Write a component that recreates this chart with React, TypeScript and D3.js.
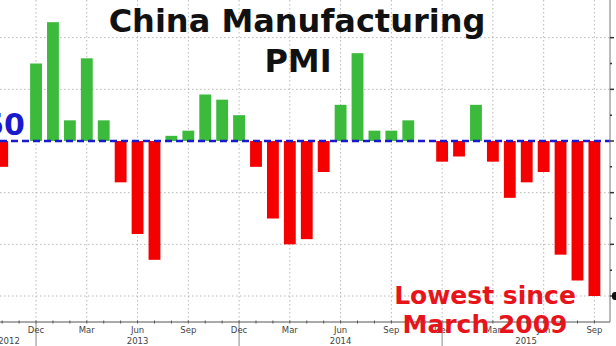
import React from "react";
import * as d3 from "d3";

const months = [
  "Oct 2012", "Nov 2012", "Dec 2012",
  "Jan 2013", "Feb 2013", "Mar 2013", "Apr 2013", "May 2013", "Jun 2013",
  "Jul 2013", "Aug 2013", "Sep 2013", "Oct 2013", "Nov 2013", "Dec 2013",
  "Jan 2014", "Feb 2014", "Mar 2014", "Apr 2014", "May 2014", "Jun 2014",
  "Jul 2014", "Aug 2014", "Sep 2014", "Oct 2014", "Nov 2014", "Dec 2014",
  "Jan 2015", "Feb 2015", "Mar 2015", "Apr 2015", "May 2015", "Jun 2015",
  "Jul 2015", "Aug 2015", "Sep 2015",
];

const pmi: (number | null)[] = [
  49.5, null, 51.5,
  52.3, 50.4, 51.6, 50.4, 49.2, 48.2,
  47.7, 50.1, 50.2, 50.9, 50.8, 50.5,
  49.5, 48.5, 48.0, 48.1, 49.4, 50.7,
  51.7, 50.2, 50.2, 50.4, 50.0, 49.6,
  49.7, 50.7, 49.6, 48.9, 49.2, 49.4,
  47.8, 47.3, 47.0,
];

const yTicks = [47, 48, 49, 50, 51, 52];
const quarterMonths = ["Dec", "Mar", "Jun", "Sep"];
const years = ["2012", "2013", "2014", "2015"];
const threshold = 50;

const W = 616;
const H = 346;
const axisY = 322;
const rightX = 610;

export default function App() {
  const x = d3
    .scaleBand<string>()
    .domain(months)
    .range([-8.8, 605.4])
    .padding(0.3);
  const y = d3.scaleLinear().domain([47, 50]).range([296, 141]);
  const bw = x.bandwidth();
  const cx = (m: string) => (x(m) as number) + bw / 2;

  const quarterTicks = months.filter((m) => quarterMonths.includes(m.slice(0, 3)));
  const decs = months.filter((m) => m.startsWith("Dec"));
  const boundaries = [-18, ...decs.map(cx), rightX];

  const minorY = d3.range(47, 52.01, 0.5);

  return (
    <svg
      width={W}
      height={H}
      style={{ position: "absolute", left: 0, top: 0, background: "#fff" }}
      fontFamily="DejaVu Sans, Verdana, sans-serif"
    >
      <rect width={W} height={H} fill="#fff" />
      {/* horizontal grid */}
      {yTicks
        .filter((t) => t !== threshold)
        .map((t) => (
          <line
            key={"hg" + t}
            x1={0}
            x2={rightX}
            y1={y(t)}
            y2={y(t)}
            stroke="#b8b8b8"
            strokeWidth={1}
            strokeDasharray="1.5,2.5"
          />
        ))}
      {/* vertical grid */}
      {quarterTicks.map((m) => (
        <line
          key={"vg" + m}
          x1={cx(m)}
          x2={cx(m)}
          y1={0}
          y2={axisY}
          stroke="#b8b8b8"
          strokeWidth={1}
          strokeDasharray="1.5,2.5"
        />
      ))}
      {/* bars */}
      {months.map((m, i) => {
        const v = pmi[i];
        if (v === null) return null;
        const y0 = y(threshold);
        const y1 = y(v);
        return (
          <rect
            key={"b" + m}
            x={x(m)}
            width={bw}
            y={Math.min(y0, y1)}
            height={Math.abs(y1 - y0)}
            fill={v >= threshold ? "#3cba3c" : "#f40000"}
          />
        );
      })}
      {/* threshold line */}
      <line
        x1={0}
        x2={rightX}
        y1={y(threshold)}
        y2={y(threshold)}
        stroke="#1a1acc"
        strokeWidth={2.5}
        strokeDasharray="7,4"
      />
      <text
        x={25}
        y={135}
        textAnchor="end"
        fontWeight="bold"
        fontSize={30}
        fill="#1a1acc"
      >
        50
      </text>
      {/* x axis */}
      <line x1={0} x2={rightX} y1={axisY} y2={axisY} stroke="#555" strokeWidth={1} />
      {months.map((m) => (
        <line
          key={"xt" + m}
          x1={cx(m)}
          x2={cx(m)}
          y1={axisY - 1.5}
          y2={axisY + 1.5}
          stroke="#555"
          strokeWidth={1}
        />
      ))}
      {decs.map((m) => (
        <line
          key={"yb" + m}
          x1={cx(m)}
          x2={cx(m)}
          y1={axisY}
          y2={H}
          stroke="#888"
          strokeWidth={1}
        />
      ))}
      {quarterTicks.map((m) => (
        <text
          key={"ml" + m}
          x={cx(m)}
          y={333}
          textAnchor="middle"
          fontSize={8.5}
          fill="#444"
        >
          {m.slice(0, 3)}
        </text>
      ))}
      {years.map((yr, i) => (
        <text
          key={"yl" + yr}
          x={(boundaries[i] + boundaries[i + 1]) / 2}
          y={344}
          textAnchor="middle"
          fontSize={8.5}
          fill="#444"
        >
          {yr}
        </text>
      ))}
      {/* right axis */}
      <line x1={rightX} x2={rightX} y1={0} y2={axisY} stroke="#777" strokeWidth={1} />
      {minorY.map((t) => (
        <line
          key={"ry" + t}
          x1={rightX}
          x2={rightX + (Number.isInteger(t) ? 4 : 2)}
          y1={y(t)}
          y2={y(t)}
          stroke="#333"
          strokeWidth={1.5}
        />
      ))}
      <rect x={rightX + 2} y={y(pmi[pmi.length - 1] as number) - 4} width={10} height={8} rx={3} fill="#111" />
      {/* title */}
      <text x={297} y={32} textAnchor="middle" fontWeight="bold" fontSize={32} fill="#111">
        China Manufacturing
      </text>
      <text x={298} y={72} textAnchor="middle" fontWeight="bold" fontSize={32} fill="#111">
        PMI
      </text>
      {/* annotation */}
      <text x={485} y={304} textAnchor="middle" fontWeight="bold" fontSize={25} fill="#e8141c">
        Lowest since
      </text>
      <text x={485} y={333} textAnchor="middle" fontWeight="bold" fontSize={25} fill="#e8141c">
        March 2009
      </text>
    </svg>
  );
}
